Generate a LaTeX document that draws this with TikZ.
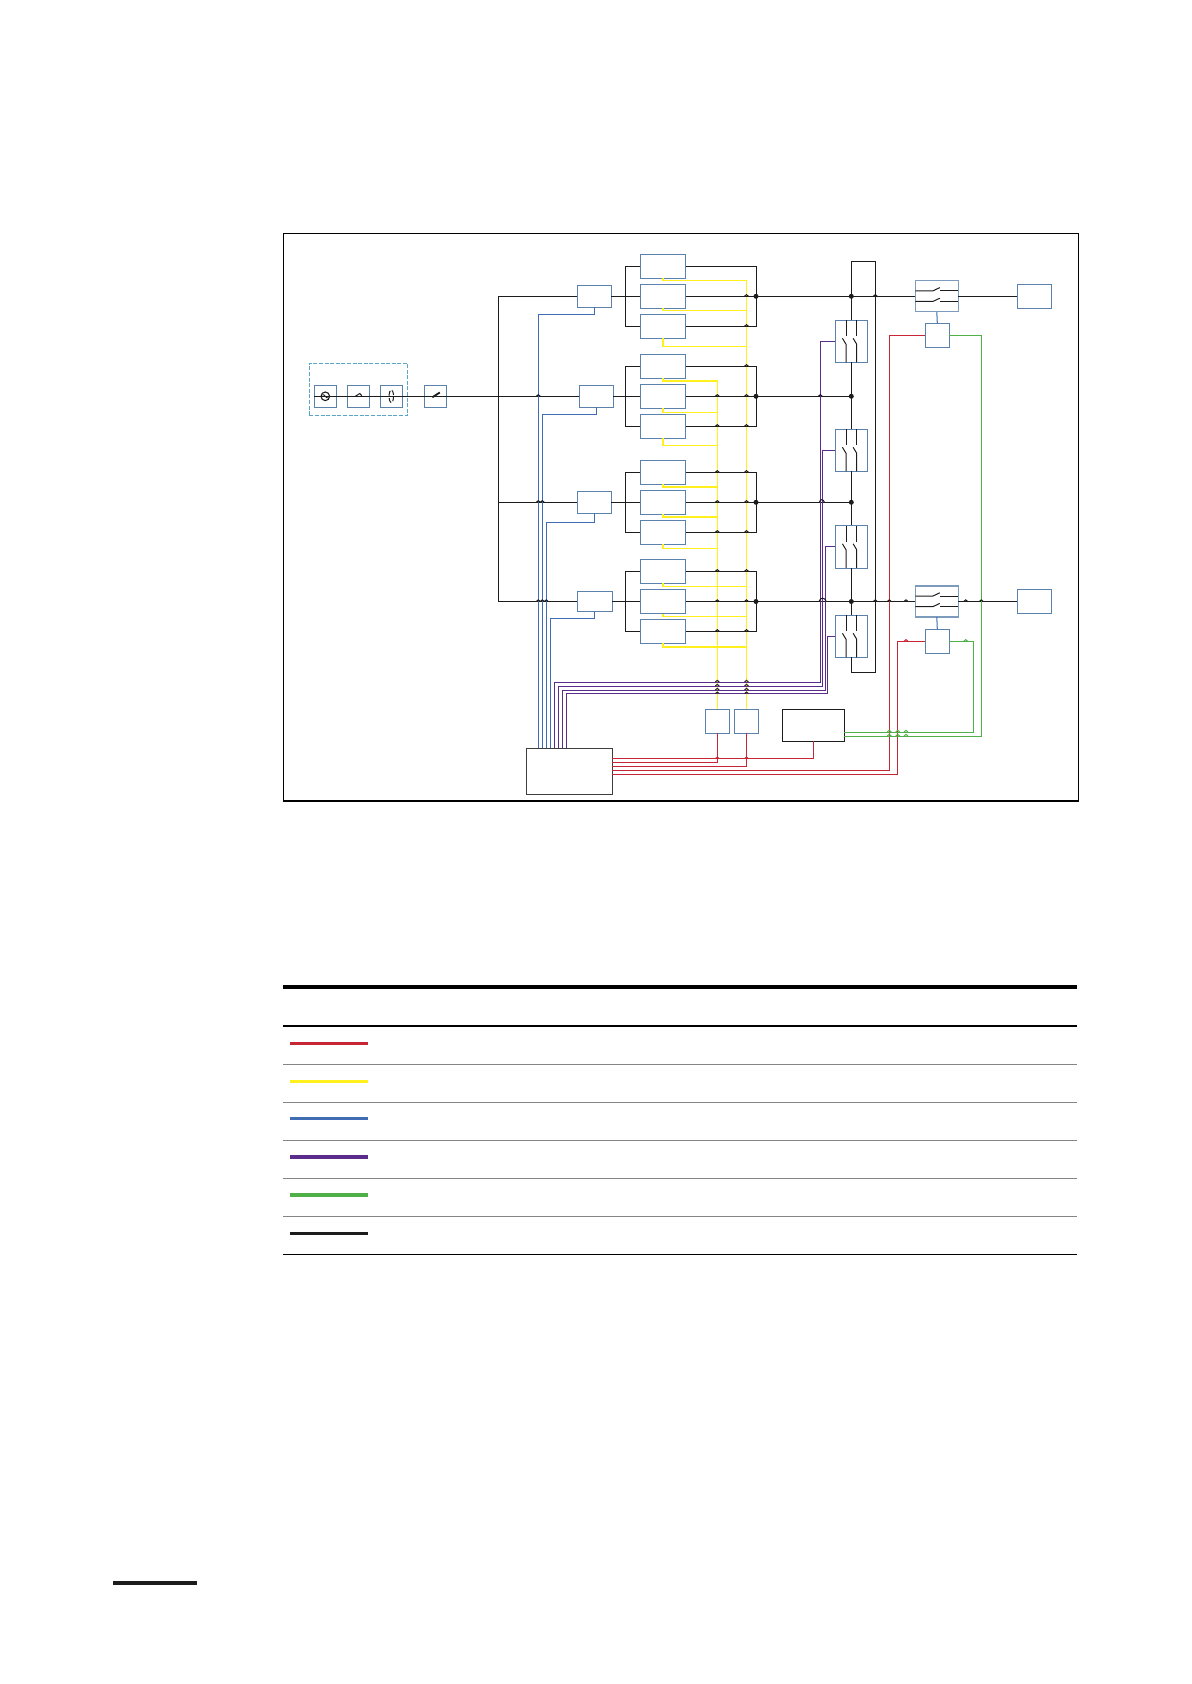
\documentclass[tikz,border=0pt]{standalone}
\usetikzlibrary{calc}
\definecolor{boxc}{HTML}{5B82AC}
\definecolor{dashc}{HTML}{5BA6C6}
\definecolor{cblk}{HTML}{1C1C1C}
\definecolor{cred}{HTML}{C62636}
\definecolor{cyel}{HTML}{FFF01E}
\definecolor{cblu}{HTML}{3F6DB3}
\definecolor{cpur}{HTML}{5A2D8C}
\definecolor{cgrn}{HTML}{4FB048}
\definecolor{rowc}{HTML}{858585}
\tikzset{
  unit/.style={draw=boxc,line width=0.55pt,fill=none,inner sep=0pt,outer sep=0pt},
  tbox/.style={unit,draw=boxc!80,line width=0.7pt},
  dbox/.style={unit,draw=dashc,dash pattern=on 2pt off 0.8pt},
  kbox/.style={draw=cblk,line width=0.55pt,inner sep=0pt,outer sep=0pt},
  ctlbox/.style={draw=cblk!85,line width=0.7pt,inner sep=0pt,outer sep=0pt},
  frame/.style={draw=black,line width=0.55pt,inner sep=0pt,outer sep=0pt},
  blk/.style={draw=cblk,line width=0.5pt},
  redl/.style={draw=cred,line width=0.5pt},
  yel/.style={draw=cyel,line width=0.55pt},
  blu/.style={draw=cblu,line width=0.5pt},
  pur/.style={draw=cpur,line width=0.5pt},
  grn/.style={draw=cgrn,line width=0.5pt},
  legend/.style={line width=1.6pt},
  dot/.style={circle,fill=cblk,inner sep=0pt,minimum size=2.5pt},
}
\newcommand\bx[6][unit]{%
  \pgfmathsetmacro\bxw{(#5-#3)*0.5}%
  \pgfmathsetmacro\bxh{(#6-#4)*0.5}%
  \pgfmathsetmacro\bxx{(#5+#3)/2}%
  \pgfmathsetmacro\bxy{(#6+#4)/2}%
  \node[#1,minimum width=\bxw pt,minimum height=\bxh pt] (#2) at (\bxx,\bxy) {};}
\newcommand\hopp[3][cblk]{\draw[#1,line width=0.5pt] (#2-2,#3) .. controls (#2-1.2,#3-2.2) and (#2+1.2,#3-2.2) .. (#2+2,#3);}
\newcommand\swV[1]{\begin{scope}[shift={(#1.center)},blk]
  \foreach \dx in {-5.3,5.4}{
    \draw (\dx,-21) -- (\dx,-5);
    \draw (\dx-3.6,-3) -- (\dx,3) -- (\dx,21);
  }\end{scope}}
\newcommand\swH[1]{\begin{scope}[shift={(#1.center)},blk]
  \foreach \dy in {-5.4,5.2}{
    \draw (-21.5,\dy) -- (-4,\dy) -- (3,\dy-3.3);
    \draw (3,\dy) -- (21.5,\dy);
  }\end{scope}}
\begin{document}
\begin{tikzpicture}[x=0.5pt,y=-0.5pt]
\useasboundingbox (0,0) rectangle (1191,1684);
% frame
\bx[frame]{F}{283.5}{233.5}{1078.7}{801}
% source group
\bx[dbox]{DB}{309.3}{363.3}{407.7}{415.3}
\bx{G1}{314.3}{385.3}{336.3}{407.3}
\bx{G2}{347.3}{385.3}{369.3}{407.3}
\bx{G3}{380.3}{385.3}{402.3}{407.3}
\bx{G4}{424.3}{385.3}{446.3}{407.3}
% feeders
\bx{A1}{577.3}{285.3}{611.3}{307.3}
\bx{A2}{579.3}{385.3}{613.3}{407.3}
\bx{A3}{577.3}{491.3}{611.3}{513.3}
\bx{A4}{577.3}{591.2}{612.3}{611.8}
% units
\bx{U11}{640.3}{254.3}{685.7}{278.3}
\bx{U12}{640.3}{284.3}{685.7}{308.3}
\bx{U13}{640.3}{314.3}{685.7}{338.3}
\bx{U21}{640.3}{354.3}{685.7}{378.3}
\bx{U22}{640.3}{384.3}{685.7}{408.3}
\bx{U23}{640.3}{414.3}{685.7}{438.3}
\bx{U31}{640.3}{460.3}{685.7}{484.3}
\bx{U32}{640.3}{490.3}{685.7}{514.3}
\bx{U33}{640.3}{520.3}{685.7}{544.3}
\bx{U41}{640.3}{559.3}{685.7}{583.3}
\bx{U42}{640.3}{589.5}{685.7}{613.5}
\bx{U43}{640.3}{619.3}{685.7}{643.3}
% switch boxes
\bx{S1}{835.3}{320.3}{867.3}{362.3}
\bx{S2}{835.3}{429.3}{867.3}{471.3}
\bx{S3}{835.3}{525.3}{867.3}{568.3}
\bx{S4}{835.3}{615.3}{867.3}{657.3}
\bx[tbox]{T1}{915.3}{280.8}{958.3}{311.8}
\bx[tbox]{T2}{915.3}{586}{958.3}{617}
\bx{R1}{1017.3}{284.3}{1051.3}{308.3}
\bx{R2}{1017.3}{589.5}{1051.3}{613.5}
\bx{C1}{925.3}{323.3}{949.3}{347.3}
\bx{C2}{925.3}{629.3}{949.3}{653.3}
\bx{K1}{705.3}{709.3}{729.3}{733.3}
\bx{K2}{734.5}{709.3}{758.5}{733.3}
\bx[kbox]{M}{782.3}{709.3}{844.3}{741.3}
\bx[ctlbox]{Ctl}{526.7}{748.3}{612.3}{794.3}
% junctions
\coordinate (B1) at (498.3,296.3);
\coordinate (B2) at (498.3,396.3);
\coordinate (B3) at (498.3,502.3);
\coordinate (B4) at (498.3,601.5);
\coordinate (J1) at (756,296.3);
\coordinate (J2) at (756,396.3);
\coordinate (J3) at (756,502.3);
\coordinate (J4) at (756,601.5);
\coordinate (D1) at (851.3,296.3);
\coordinate (D2) at (851.3,396.3);
\coordinate (D3) at (851.3,502.3);
\coordinate (D4) at (851.3,601.5);
\coordinate (BTL) at (851.3,261.3);
\coordinate (BTR) at (875.3,261.3);
\coordinate (BBL) at (851.3,672.3);
\coordinate (BBR) at (875.3,672.3);
% yellow
\draw[yel] (U11.south) |- (K2.north |- 0,280.7) -- (K2.north);
\draw[yel] (U12.south) |- (K2.north |- 0,310.3);
\draw[yel] (U13.south) |- (K2.north |- 0,346.7);
\draw[yel] (U21.south) |- (K1.north |- 0,381) -- (K1.north);
\draw[yel] (U22.south) |- (K1.north |- 0,412.7);
\draw[yel] (U23.south) |- (K1.north |- 0,445.3);
\draw[yel] (U31.south) |- (K1.north |- 0,487);
\draw[yel] (U32.south) |- (K1.north |- 0,517);
\draw[yel] (U33.south) |- (K1.north |- 0,548.7);
\draw[yel] (U41.south) |- (K2.north |- 0,586.3);
\draw[yel] (U42.south) |- (K2.north |- 0,616.7);
\draw[yel] (U43.south) |- (K2.north |- 0,647);
\draw[yel] (K1.north |- 0,690.7) -- (K2.north |- 0,690.7);
% black power
\draw[blk] (G1.west) -- (G4.east) -- (B2) -- (A2.west);
\draw[blk] (A1.west) -- (B1) -- (B4) -- (A4.west);
\draw[blk] (B3) -- (A3.west);
\draw[blk] (A1.east) -- (U12.west);
\draw[blk] (A2.east) -- (U22.west);
\draw[blk] (A3.east) -- (U32.west);
\draw[blk] (A4.east) -- (U42.west);
\draw[blk] (U11.west) -- ++(-15,0) |- (U13.west);
\draw[blk] (U21.west) -- ++(-15,0) |- (U23.west);
\draw[blk] (U31.west) -- ++(-15,0) |- (U33.west);
\draw[blk] (U41.west) -- ++(-15,0) |- (U43.west);
\draw[blk] (U11.east) -| (J1) |- (U13.east);
\draw[blk] (U21.east) -| (J2) |- (U23.east);
\draw[blk] (U31.east) -| (J3) |- (U33.east);
\draw[blk] (U41.east) -| (J4) |- (U43.east);
\draw[blk] (U12.east) -- (J1) -- (D1) -- (T1.west);
\draw[blk] (U22.east) -- (J2) -- (D2);
\draw[blk] (U32.east) -- (J3) -- (D3);
\draw[blk] (U42.east) -- (J4) -- (D4) -- (T2.west);
\draw[blk] (T1.east) -- (R1.west);
\draw[blk] (T2.east) -- (R2.west);
\draw[blk] (S1.north) -- (BTL) -- (BTR) -- (BBR) -- (BBL) -- (S4.south);
\draw[blk] (S1.south) -- (S2.north);
\draw[blk] (S2.south) -- (S3.north);
\draw[blk] (S3.south) -- (S4.north);
% blue
\draw[blu] (A1.south) |- (538.3,314.3) -- (Ctl.north -| 538.3,0);
\draw[blu] (A2.south) |- (542.3,414.3) -- (Ctl.north -| 542.3,0);
\draw[blu] (A3.south) |- (546.3,522.3) -- (Ctl.north -| 546.3,0);
\draw[blu] (A4.south) |- (550.3,618.3) -- (Ctl.north -| 550.3,0);
\draw[blu] (T1.south) -- (C1.north);
\draw[blu] (T2.south) -- (C2.north);
% purple
\draw[pur] (S1.west) -| (820.3,682) -| (Ctl.north -| 554.3,0);
\draw[pur] (S2.west) -| (822.5,686) -| (Ctl.north -| 558.3,0);
\draw[pur] (S3.west) -| (825,690) -| (Ctl.north -| 562.3,0);
\draw[pur] (S4.west) -| (827,693.7) -| (Ctl.north -| 566.9,0);
% red
\draw[redl] (M.south) |- (Ctl.east |- 0,758.7);
\draw[redl] (K1.south) |- (Ctl.east |- 0,762.3);
\draw[redl] (K2.south) |- (Ctl.east |- 0,766.3);
\draw[redl] (C1.west) -| (889.3,770.3) -- (Ctl.east |- 0,770.3);
\draw[redl] (C2.west) -| (897.7,774.7) -- (Ctl.east |- 0,774.7);
% green
\draw[grn] (C1.east) -| (981.3,736) -- (M.east |- 0,736);
\draw[grn] (C2.east) -| (973.7,732) -- (M.east |- 0,732);
% hops on black rows
\foreach \hx/\hy in {538.3/396.3,538.3/502.3,542.3/502.3,538.3/601.5,542.3/601.5,546.3/601.5,
 746.5/296.3,746.5/326.3,746.5/366.3,746.5/396.3,746.5/426.3,717.3/396.3,717.3/426.3,
 717.3/472.3,746.5/472.3,717.3/502.3,746.5/502.3,717.3/532.3,746.5/532.3,
 717.3/571.3,746.5/571.3,717.3/601.5,746.5/601.5,717.3/631.3,746.5/631.3,
 820.3/396.3,875.3/296.3,875.3/601.5,889.3/601.5,906/601.5,965.7/601.5,981.3/601.5}{\hopp{\hx}{\hy}}
\hopp[cred]{906}{641.3}
\hopp[cgrn]{965.7}{641.3}
\foreach \hx in {889.3,897.7,906}{\hopp[cgrn]{\hx}{732}\hopp[cgrn]{\hx}{736}}
\foreach \hy in {682,686,690,693.7}{\hopp[cblk!80!cpur]{717.3}{\hy}\hopp[cblk!80!cpur]{746.5}{\hy}}
\hopp[cred]{717.3}{758.7}
\hopp[cred]{746.5}{758.7}
% wide hops over purple
\draw[cblk,line width=0.5pt] (819.3,502.3) .. controls (820.3,498.8) and (823,498.8) .. (824.5,502.3);
\draw[cblk,line width=0.5pt] (819,601.5) .. controls (820.5,597) and (824.5,597) .. (826.3,601.5);
% dots
\foreach \n in {J1,J2,J3,J4,D1,D2,D3,D4}{\node[dot] at (\n) {};}
% switch symbols
\swV{S1}\swV{S2}\swV{S3}\swV{S4}
\swH{T1}\swH{T2}
\begin{scope}[shift={(G1.center)}]
  \draw[cblk,line width=0.55pt] (0,0) circle (4.3);
  \draw[cblk,line width=0.45pt] (-3,-1.5) .. controls (-1,-3) and (1,3) .. (3,1.5);
\end{scope}
\begin{scope}[shift={(G2.center)}]
  \draw[cblk,line width=0.5pt] (-3,0) -- (1.5,-2.8) -- (3.5,-0.5);
\end{scope}
\begin{scope}[shift={(G3.center)}]
  \draw[cblk,line width=0.5pt,dash pattern=on 2.5pt off 1.2pt] (0,0) ellipse (2.2 and 6.5);
\end{scope}
\begin{scope}[shift={(G4.center)}]
  \draw[cblk,line width=0.9pt] (-3,1) -- (4.5,-3.8);
\end{scope}
% table rules
\coordinate (TL1) at (283,987);   \coordinate (TR1) at (1077.3,987);
\coordinate (TL2) at (283,1026);  \coordinate (TR2) at (1077.3,1026);
\draw[black,line width=2pt] (TL1) -- (TR1);
\draw[black,line width=1pt] (TL2) -- (TR2);
\foreach \ry in {1064.3,1102.3,1140.3,1178.3,1216.3}{\draw[rowc,line width=0.6pt] (283,\ry) -- (1077.3,\ry);}
\draw[black,line width=0.7pt] (283,1254.3) -- (1077.3,1254.3);
% legend
\draw[legend,draw=cred] (290,1043.3) -- (368,1043.3);
\draw[legend,draw=cyel] (290,1081.3) -- (368,1081.3);
\draw[legend,draw=cblu] (290,1118.8) -- (368,1118.8);
\draw[legend,draw=cpur] (290,1157) -- (368,1157);
\draw[legend,draw=cgrn] (290,1195) -- (368,1195);
\draw[legend,draw=cblk] (290,1233.3) -- (368,1233.3);
% footer rule
\draw[cblk,line width=2pt] (113,1583) -- (196.7,1583);
\end{tikzpicture}
\end{document}
